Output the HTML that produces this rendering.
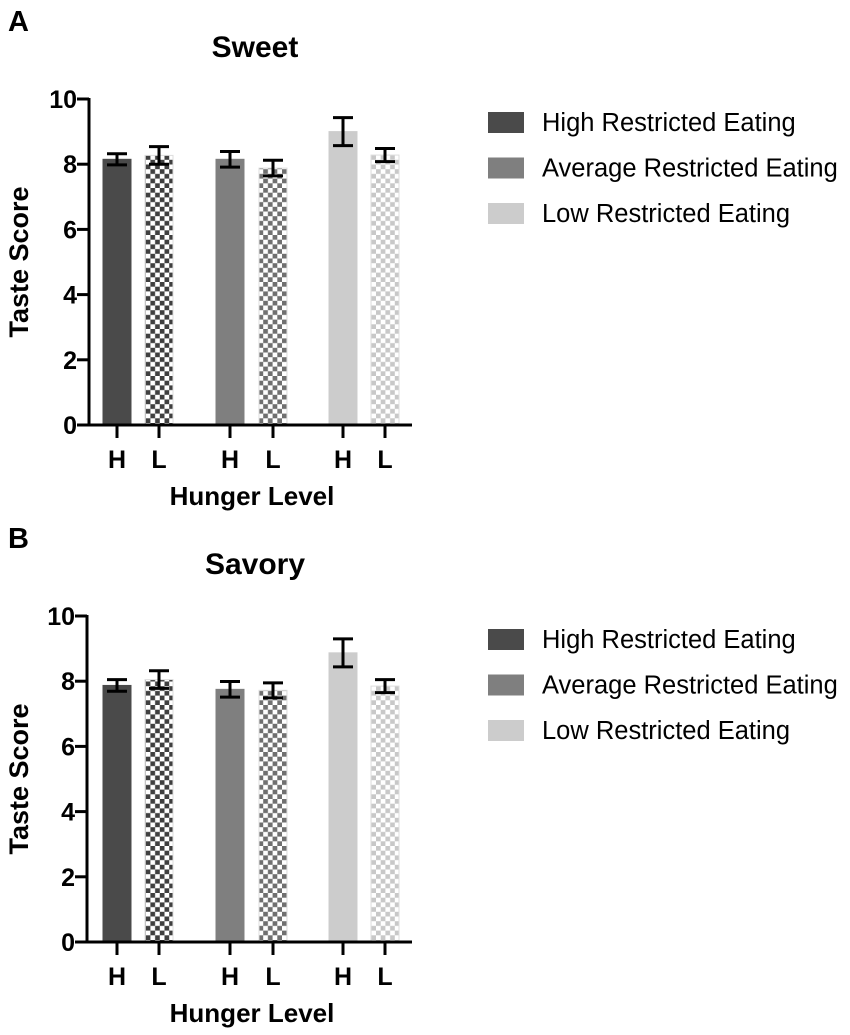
<!DOCTYPE html>
<html><head><meta charset="utf-8"><style>
html,body{margin:0;padding:0;background:#fff;}
svg{display:block;font-family:"Liberation Sans",Arial,sans-serif;}
.b{font-weight:bold;}
</style></head><body>
<svg id="chart" width="850" height="1035" viewBox="0 0 850 1035">
<defs>
<pattern id="chk0" width="9.4" height="9.4" patternUnits="userSpaceOnUse"><rect width="9.4" height="9.4" fill="#fff"/><rect width="4.7" height="4.7" fill="#3f3f3f"/><rect x="4.7" y="4.7" width="4.7" height="4.7" fill="#3f3f3f"/></pattern>
<pattern id="chk1" width="9.4" height="9.4" patternUnits="userSpaceOnUse"><rect width="9.4" height="9.4" fill="#fff"/><rect width="4.7" height="4.7" fill="#707070"/><rect x="4.7" y="4.7" width="4.7" height="4.7" fill="#707070"/></pattern>
<pattern id="chk2" width="9.4" height="9.4" patternUnits="userSpaceOnUse"><rect width="9.4" height="9.4" fill="#fff"/><rect width="4.7" height="4.7" fill="#c8c8c8"/><rect x="4.7" y="4.7" width="4.7" height="4.7" fill="#c8c8c8"/></pattern>
</defs>
</svg>
<script>
const categories = ['H','L','H','L','H','L'];
const groups = ['High Restricted Eating','Average Restricted Eating','Low Restricted Eating'];
const sweetMeans = [8.15, 8.27, 8.15, 7.88, 9.0, 8.28];
const sweetErr = [0.17, 0.27, 0.24, 0.24, 0.43, 0.2];
const savoryMeans = [7.87, 8.05, 7.75, 7.72, 8.87, 7.85];
const savoryErr = [0.18, 0.27, 0.24, 0.23, 0.43, 0.2];
const yTicks = [0, 2, 4, 6, 8, 10];

const NS = 'http://www.w3.org/2000/svg';
const svg = document.getElementById('chart');
function mk(tag, attrs, parent, txt){
  const e = document.createElementNS(NS, tag);
  for (const k in attrs) e.setAttribute(k, attrs[k]);
  if (txt !== undefined) e.textContent = txt;
  (parent || svg).appendChild(e);
  return e;
}
const solid = ['#4a4a4a','#7f7f7f','#cccccc'];
const barCenters = [117,159,230,273,343,385];

function panel(letter, title, means, errs, top, axisX){
  const g = mk('g', {});
  
  
  const y0 = top + 326, y10 = top;
  const y = v => y0 - (v / 10) * (y0 - y10);
  const t1 = mk('text', {x: 8, y: top - 68, 'font-size': 29, class: 'b'}, g, letter);
  
  
  const t2 = mk('text', {x: 255, y: top - 42, 'font-size': 30, class: 'b', 'text-anchor': 'middle'}, g, title);
  
  
  means.forEach((m, i) => {
    const grp = Math.floor(i / 2), low = i % 2 === 1;
    const cx = barCenters[i];
    const r = mk('rect', {x: cx - 14, y: y(m), width: 28, height: y0 - y(m), fill: low ? 'url(#chk' + grp + ')' : solid[grp], stroke: low ? '#ddd' : solid[grp], 'stroke-width': 1}, g);
    
    
    const e = errs[i];
    const eb = mk('path', {d: 'M' + (cx - 10) + ',' + y(m + e) + 'H' + (cx + 10) + 'M' + cx + ',' + y(m + e) + 'V' + y(m - e) + 'M' + (cx - 10) + ',' + y(m - e) + 'H' + (cx + 10), stroke: '#000', 'stroke-width': 3, fill: 'none'}, g);
    
    
  });
  const ax = mk('path', {d: 'M' + axisX + ',' + (y10 - 1) + 'V' + y0 + 'M' + (axisX - 12) + ',' + y0 + 'H412', stroke: '#000', 'stroke-width': 3, fill: 'none'}, g);
  
  
  yTicks.forEach(v => {
    const tk = mk('line', {x1: axisX - 12, x2: axisX, y1: y(v), y2: y(v), stroke: '#000', 'stroke-width': 3}, g);
    
    
    const tl = mk('text', {x: axisX - 12, y: y(v) + 9, 'font-size': 25, class: 'b', 'text-anchor': 'end'}, g, String(v));
    
    
  });
  categories.forEach((c, i) => {
    const cx = barCenters[i];
    const tk = mk('line', {x1: cx, x2: cx, y1: y0, y2: y0 + 13, stroke: '#000', 'stroke-width': 3}, g);
    
    
    const tl = mk('text', {x: cx, y: y0 + 43, 'font-size': 25, class: 'b', 'text-anchor': 'middle'}, g, c);
    
    
  });
  const xt = mk('text', {x: 252, y: y0 + 80, 'font-size': 26, class: 'b', 'text-anchor': 'middle'}, g, 'Hunger Level');
  
  
  const yt = mk('text', {x: 0, y: 0, 'font-size': 27, class: 'b', 'text-anchor': 'middle', transform: 'translate(28,' + (top + 163) + ') rotate(-90)'}, g, 'Taste Score');
  
  
  groups.forEach((name, i) => {
    const ly = top + 13 + i * 45.5;
    const sw = mk('rect', {x: 488, y: ly, width: 36, height: 21, fill: solid[i]}, g);
    
    
    const lt = mk('text', {x: 542, y: ly + 19, 'font-size': 25.5}, g, name);
    
    
  });
}
panel('A', 'Sweet', sweetMeans, sweetErr, 99, 89);
panel('B', 'Savory', savoryMeans, savoryErr, 616, 87);
</script>
</body></html>
